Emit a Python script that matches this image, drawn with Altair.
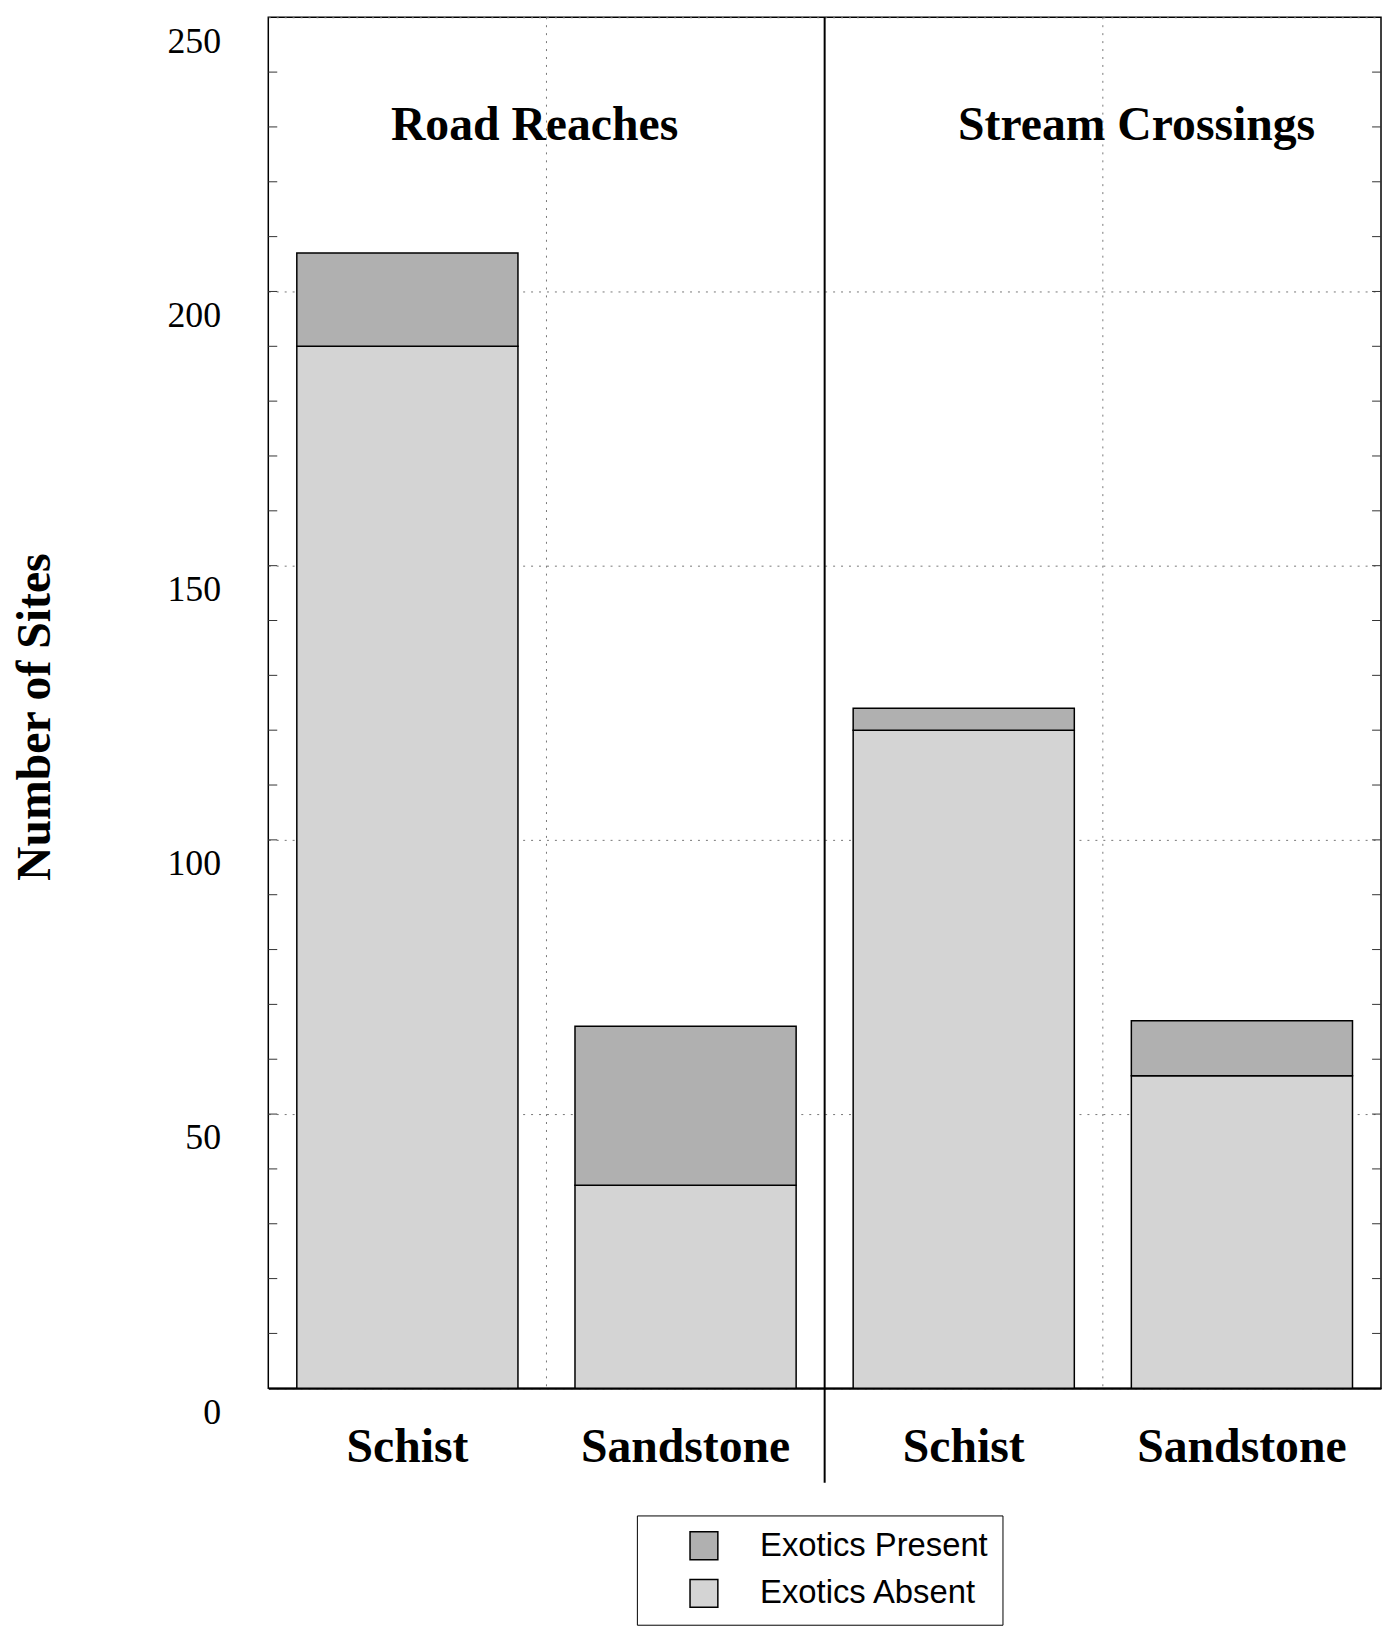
import altair as alt
import pandas as pd

# ---- data ----
keys = ["R-Schist", "R-Sandstone", "S-Schist", "S-Sandstone"]
rock_labels = ["Schist", "Sandstone", "Schist", "Sandstone"]
absent_counts = [190, 37, 120, 57]
present_counts = [17, 29, 4, 10]
series = ["Exotics Present", "Exotics Absent"]
series_colors = ["#b0b0b0", "#d4d4d4"]
panel_titles = ["Road Reaches", "Stream Crossings"]
panel_anchor = ["R-Sandstone", "S-Sandstone"]
y_tick_values = [0, 50, 100, 150, 200, 250]
minor_tick_values = list(range(10, 250, 10))

rows = []
for k, a, p in zip(keys, absent_counts, present_counts):
    rows.append({"key": k, "series": "Exotics Absent", "count": a, "ord": 0})
    rows.append({"key": k, "series": "Exotics Present", "count": p, "ord": 1})
bars_df = pd.DataFrame(rows)

W, H = 1120, 1380
SERIF = "Liberation Serif"

x_scale = alt.Scale(domain=keys, paddingInner=0, paddingOuter=0)
y_scale = alt.Scale(domain=[0, 250], nice=False)

bars = alt.Chart(bars_df).mark_bar(
    stroke="black", strokeWidth=1.5, width=alt.RelativeBandSize(0.795)
).encode(
    x=alt.X(
        "key:N",
        scale=x_scale,
        axis=alt.Axis(
            title="",
            labelExpr="split(datum.value, '-')[1]",
            ticks=False,
            tickSize=0,
            labelPadding=36,
            labelFont=SERIF,
            labelFontWeight="bold",
            labelFontSize=48,
            labelColor="black",
            labelAngle=0,
            labelLimit=400,
            domainColor="black",
            domainWidth=2,
            grid=False,
        ),
    ),
    y=alt.Y(
        "count:Q",
        stack="zero",
        scale=y_scale,
        axis=alt.Axis(
            values=y_tick_values,
            title="Number of Sites",
            titleFont=SERIF,
            titleFontSize=48,
            titleFontWeight="bold",
            titleColor="black",
            titleAngle=270,
            titleAlign="center",
            titleBaseline="middle",
            titleX=-234,
            titleY=704,
            labelFont=SERIF,
            labelFontSize=36,
            labelColor="black",
            labelPadding=48,
            labelOffset=24,
            domain=False,
            ticks=False,
            tickSize=0,
            grid=True,
            gridDash=[2, 6],
            gridColor="#777777",
            gridWidth=1,
        ),
    ),
    color=alt.Color(
        "series:N",
        scale=alt.Scale(domain=series, range=series_colors),
        legend=alt.Legend(
            title=None,
            orient="none",
            legendX=371,
            legendY=1508,
            direction="vertical",
            symbolType="square",
            symbolSize=784,
            symbolStrokeColor="black",
            symbolStrokeWidth=1.5,
            symbolOpacity=1,
            symbolOffset=37,
            labelFont="Liberation Sans",
            labelFontSize=33,
            labelColor="black",
            labelOffset=40,
            labelLimit=500,
            labelExpr="datum.label + '\u00a0\u00a0\u00a0'",
            rowPadding=13,
            padding=14,
            strokeColor="black",
            fillColor="white",
        ),
    ),
    order=alt.Order("ord:Q"),
)

# dotted vertical grid lines at panel sub-boundaries
grid_df = pd.DataFrame({"key": [keys[1], keys[3]]})
vgrid = alt.Chart(grid_df).mark_rule(color="#777777", strokeWidth=1, strokeDash=[2, 6]).encode(
    x=alt.X("key:N", bandPosition=0, scale=x_scale),
    y=alt.value(0),
    y2=alt.value(H),
)

# solid divider between the two panels
div_df = pd.DataFrame({"key": [keys[2]]})
divider = alt.Chart(div_df).mark_rule(color="black", strokeWidth=2).encode(
    x=alt.X("key:N", bandPosition=0, scale=x_scale),
    y=alt.value(0),
    y2=alt.value(H + 95),
)

# inward ticks on left and right frame
tick_df = pd.DataFrame({"t": minor_tick_values})
left_ticks = alt.Chart(tick_df).mark_rule(color="#333333", strokeWidth=1).encode(
    y=alt.Y("t:Q", scale=y_scale),
    x=alt.value(0),
    x2=alt.value(9),
)
right_ticks = alt.Chart(tick_df).mark_rule(color="#333333", strokeWidth=1).encode(
    y=alt.Y("t:Q", scale=y_scale),
    x=alt.value(W - 9),
    x2=alt.value(W),
)

# panel titles
title_df = pd.DataFrame({"title": panel_titles, "key": panel_anchor})
road_title = alt.Chart(title_df).transform_filter(
    alt.datum.title == panel_titles[0]
).mark_text(
    font=SERIF, fontSize=48, fontWeight="bold", color="black",
    baseline="alphabetic", align="center", dx=-12,
).encode(
    x=alt.X("key:N", bandPosition=0, scale=x_scale),
    y=alt.value(124),
    text="title:N",
)
stream_title = alt.Chart(title_df).transform_filter(
    alt.datum.title == panel_titles[1]
).mark_text(
    font=SERIF, fontSize=48, fontWeight="bold", color="black",
    baseline="alphabetic", align="center", dx=34,
).encode(
    x=alt.X("key:N", bandPosition=0, scale=x_scale),
    y=alt.value(124),
    text="title:N",
)

chart = alt.layer(
    bars, vgrid, left_ticks, right_ticks, divider, road_title, stream_title
).properties(
    width=W,
    height=H,
    padding={"left": 4, "top": 3, "right": 0, "bottom": 0},
    background="white",
).configure_view(
    stroke="black", strokeWidth=1.5
)

chart.save("out.html", embed_options={"renderer": "svg", "actions": False})
